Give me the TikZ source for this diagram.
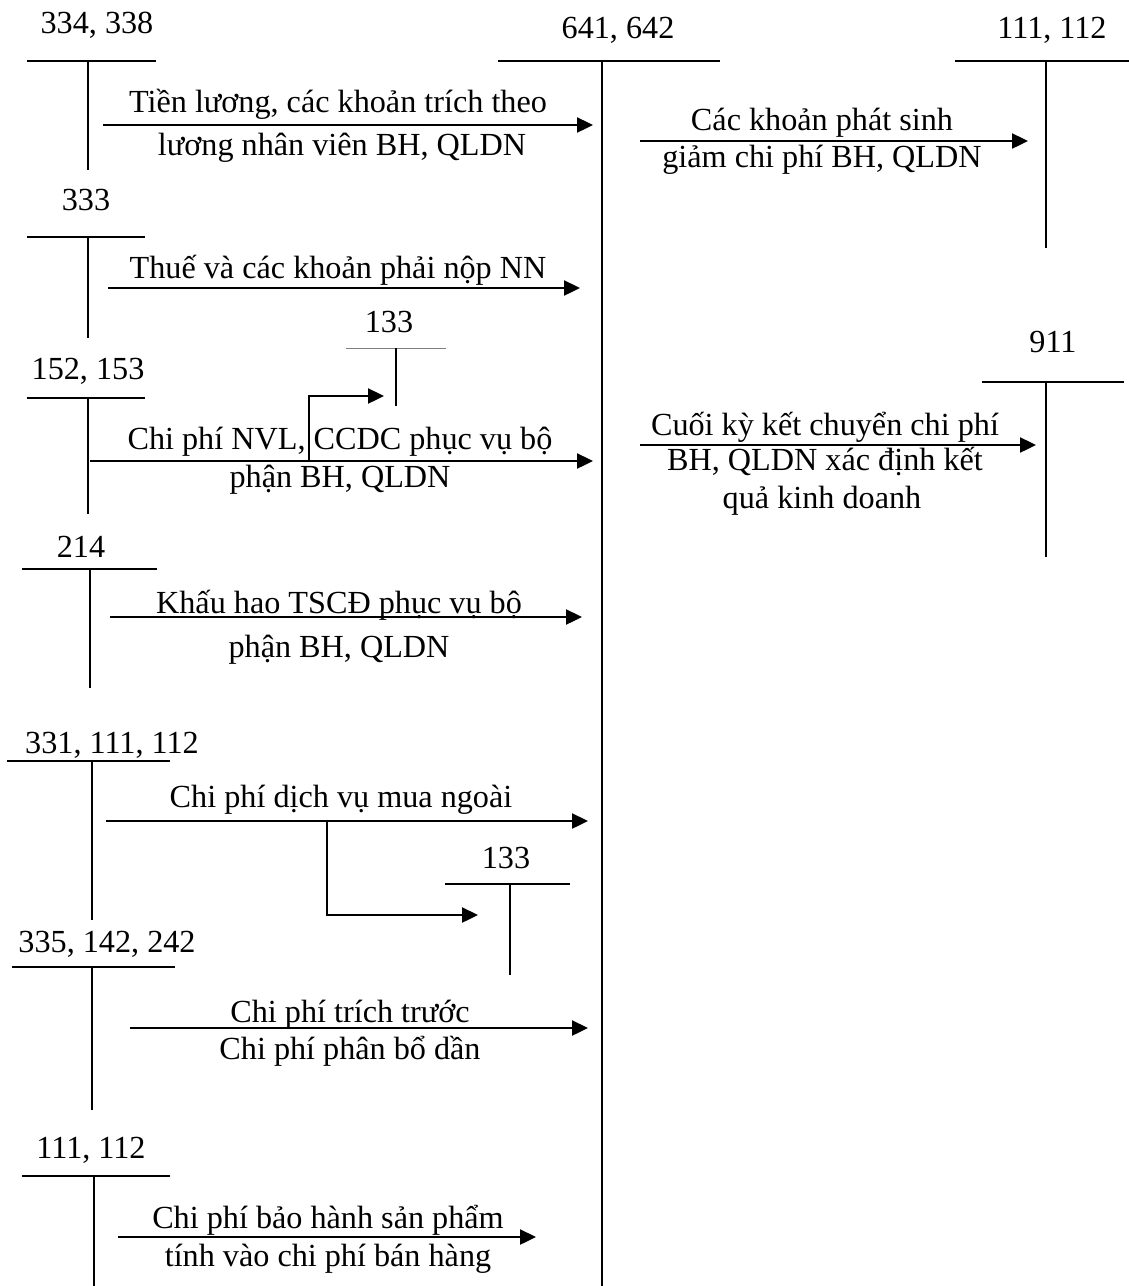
\documentclass[tikz,border=0pt]{standalone}
\usepackage{fontspec}
\setmainfont{Liberation Serif}
\usetikzlibrary{arrows.meta}
\tikzset{
  tline/.style={line width=1pt},
  thin133/.style={line width=0.4pt, draw=gray},
  lbl/.style={anchor=base, inner sep=0pt, align=center, font=\fontsize{16.1}{19}\selectfont},
  arr/.style={-{Triangle[length=8pt,width=7.5pt]}, line width=1.2pt}}

\begin{document}
\begin{tikzpicture}[x=0.5pt, y=-0.5pt]
  \useasboundingbox (0,0) rectangle (1129,1286);
  % TK 641, 642 (giua)
  \node[lbl] (n641) at (618,38) {641, 642};
  \draw[tline] (498,61) -- (720,61) (602,61) -- (602,1286);
  % ben trai
  \node[lbl] (n334) at (97,33) {334, 338};
  \draw[tline] (27,61) -- (156,61) (88,61) -- (88,170);
  \node[lbl] (n333) at (86,210) {333};
  \draw[tline] (27,237) -- (145,237) (88,237) -- (88,338);
  \node[lbl] (n152) at (88,379) {152, 153};
  \draw[tline] (27,398) -- (145,398) (88,398) -- (88,514);
  \node[lbl] (n133a) at (389,332) {133};
  \draw[thin133] (346,348) -- (446,348);
  \draw[tline] (396,348) -- (396,406);
  \node[lbl] (n214) at (81,557) {214};
  \draw[tline] (22,569) -- (157,569) (90,569) -- (90,688);
  \node[lbl] (n331) at (112,753) {331, 111, 112};
  \draw[tline] (7,761) -- (170,761) (92,761) -- (92,920);
  \node[lbl] (n133b) at (506,868) {133};
  \draw[tline] (445,884) -- (570,884) (510,884) -- (510,975);
  \node[lbl] (n335) at (107,952) {335, 142, 242};
  \draw[tline] (12,967) -- (175,967) (92,967) -- (92,1110);
  \node[lbl] (n111b) at (91,1158) {111, 112};
  \draw[tline] (22,1176) -- (170,1176) (94,1176) -- (94,1286);
  % ben phai
  \node[lbl] (n111a) at (1052,38) {111, 112};
  \draw[tline] (955,61) -- (1129,61) (1046,61) -- (1046,248);
  \node[lbl] (n911) at (1053,352) {911};
  \draw[tline] (982,382) -- (1124,382) (1046,382) -- (1046,557);

  % diem dau, diem cuoi cac mui ten
  \coordinate (a1s) at (103,125);  \coordinate (a1e) at (593,125);
  \coordinate (a2s) at (108,288);  \coordinate (a2e) at (580,288);
  \coordinate (a3s) at (90,461);   \coordinate (a3e) at (593,461);
  \coordinate (b1) at (309,461);   \coordinate (b1e) at (384,396);
  \coordinate (a4s) at (110,617);  \coordinate (a4e) at (582,617);
  \coordinate (a5s) at (106,821);  \coordinate (a5e) at (588,821);
  \coordinate (b2) at (327,821);   \coordinate (b2e) at (478,915);
  \coordinate (a6s) at (130,1028); \coordinate (a6e) at (588,1028);
  \coordinate (a7s) at (118,1237); \coordinate (a7e) at (536,1237);
  \coordinate (r1s) at (640,141);  \coordinate (r1e) at (1028,141);
  \coordinate (r2s) at (640,445);  \coordinate (r2e) at (1036,445);

  \draw[arr] (a1s) -- (a1e); \draw[arr] (a2s) -- (a2e); \draw[arr] (a3s) -- (a3e);
  \draw[arr] (b1) |- (b1e); \draw[arr] (a4s) -- (a4e); \draw[arr] (a5s) -- (a5e);
  \draw[arr] (b2) |- (b2e); \draw[arr] (a6s) -- (a6e); \draw[arr] (a7s) -- (a7e);
  \draw[arr] (r1s) -- (r1e); \draw[arr] (r2s) -- (r2e);

  % noi dung nghiep vu
  \node[lbl] (t1a) at (338,112) {Tiền lương, các khoản trích theo};
  \node[lbl] (t1b) at (342,155) {lương nhân viên BH, QLDN};
  \node[lbl] (t2) at (338,278) {Thuế và các khoản phải nộp NN};
  \node[lbl] (t3a) at (340,449) {Chi phí NVL, CCDC phục vụ bộ};
  \node[lbl] (t3b) at (340,487) {phận BH, QLDN};
  \node[lbl] (t4a) at (339,613) {Khấu hao TSCĐ phục vụ bộ};
  \node[lbl] (t4b) at (339,657) {phận BH, QLDN};
  \node[lbl] (t5) at (341,807) {Chi phí dịch vụ mua ngoài};
  \node[lbl] (t6a) at (350,1022) {Chi phí trích trước};
  \node[lbl] (t6b) at (350,1059) {Chi phí phân bổ dần};
  \node[lbl] (t7a) at (328,1228) {Chi phí bảo hành sản phẩm};
  \node[lbl] (t7b) at (328,1266) {tính vào chi phí bán hàng};
  \node[lbl] (r1a) at (822,130) {Các khoản phát sinh};
  \node[lbl] (r1b) at (822,167) {giảm chi phí BH, QLDN};
  \node[lbl] (r2a) at (825,435) {Cuối kỳ kết chuyển chi phí};
  \node[lbl] (r2b) at (825,470) {BH, QLDN xác định kết};
  \node[lbl] (r2c) at (822,508) {quả kinh doanh};
\end{tikzpicture}
\end{document}
